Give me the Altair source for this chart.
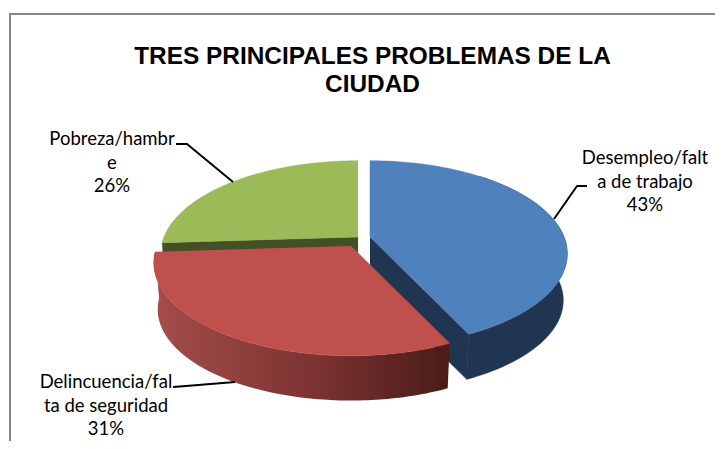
import math
import altair as alt
import pandas as pd

categories = ["Desempleo/falta de trabajo", "Delincuencia/falta de seguridad", "Pobreza/hambre"]
shares = [43, 31, 26]
title_lines = ["TRES PRINCIPALES PROBLEMAS DE LA", "CIUDAD"]
label_lines = [
    ["Desempleo/falt", "a de trabajo", "43%"],
    ["Delincuencia/fal", "ta de seguridad", "31%"],
    ["Pobreza/hambr", "e", "26%"],
]
label_x = [645, 106, 112]
label_y = [158, 382, 139]
leaders = [
    [(587, 186), (577, 186), (554, 219)],
    [(173, 387), (186, 386), (235, 382)],
    [(176, 144), (187, 144), (233, 182)],
]
apex = [(370, 237), (351, 246), (358, 237)]
top_colors = ["#4f81bd", "#c0504d", "#9bbb59"]

AX, BX, K, DEPTH, BOTTOM = 194, 90, 0.18, 47, 0.98
W, H = 707, 433
xs = alt.Scale(domain=[8, 8 + W], range=[0, W])
ys = alt.Scale(domain=[8, 8 + H], range=[0, H])


def rim(t, c, scale=1.0, dy=0.0):
    a = math.radians(t)
    p = 1 / (1 + K * math.cos(a))
    return (c[0] + scale * AX * math.sin(a) * p, c[1] + dy + scale * BX * math.cos(a) * -1 * p)


def arc(t0, t1, c, scale=1.0, dy=0.0):
    n = max(2, int(abs(t1 - t0)))
    return [rim(t0 + (t1 - t0) * i / n, c, scale, dy) for i in range(n + 1)]


def polygon(points, **mark):
    df = pd.DataFrame([{"x": x, "y": y, "i": i} for i, (x, y) in enumerate(points)])
    return alt.Chart(df).mark_line(strokeJoin="round", **mark).encode(
        x=alt.X("x:Q", scale=xs, axis=None),
        y=alt.Y("y:Q", scale=ys, axis=None),
        order="i:Q",
    )


def solid(points, color):
    return polygon(points, fill=color, stroke=color, strokeWidth=0.5)


edges = [0]
for s in shares:
    edges.append(edges[-1] + s * 3.6)
(t0b, t1b), (t0r, t1r), (t0g, t1g) = zip(edges[:-1], edges[1:])
cb, cr, cg = apex


def wall(t, c):
    return [c, rim(t, c), rim(t, c, BOTTOM, DEPTH), (c[0], c[1] + DEPTH)]


red_gradient = alt.LinearGradient(
    gradient="linear", x1=0, x2=1, y1=0, y2=0,
    stops=[
        alt.GradientStop(color="#a54d4a", offset=0),
        alt.GradientStop(color="#7b3331", offset=0.55),
        alt.GradientStop(color="#4a1b18", offset=1),
    ],
)

layers = [
    solid(wall(t0g, cg), "#434f25"),
    solid([cg] + arc(t0g, t1g, cg), top_colors[2]),
    solid(wall(t1b, cb), "#1f3552"),
    solid(arc(40, t1b, cb) + arc(t1b, 40, cb, BOTTOM, DEPTH), "#1f3552"),
    solid([cb] + arc(t0b, t1b, cb), top_colors[0]),
    polygon(arc(t0r, t1r, cr) + arc(t1r, t0r, cr, BOTTOM, DEPTH), fill=red_gradient, strokeWidth=0),
    solid([cr] + arc(t0r, t1r, cr), top_colors[1]),
]

frame = pd.DataFrame({"x": [10, 10, 723], "y": [449, 14, 14], "i": [0, 1, 2]})
layers.append(
    alt.Chart(frame).mark_line(color="#868686", strokeWidth=2, clip=False).encode(
        x=alt.X("x:Q", scale=xs, axis=None), y=alt.Y("y:Q", scale=ys, axis=None), order="i:Q"
    )
)

for path in leaders:
    layers.append(polygon(path, color="black", strokeWidth=2))

rows = []
for lines, lx, ly in zip(label_lines, label_x, label_y):
    for j, line in enumerate(lines):
        rows.append({"x": lx, "y": ly + j * 23.7, "t": line})
layers.append(
    alt.Chart(pd.DataFrame(rows)).mark_text(font="Lato", fontSize=18.5, color="black", align="center", baseline="middle").encode(
        x=alt.X("x:Q", scale=xs, axis=None), y=alt.Y("y:Q", scale=ys, axis=None), text="t:N"
    )
)

chart = alt.layer(*layers).properties(
    width=W,
    height=H,
    padding=0,
    autosize=alt.AutoSizeParams(type="none"),
    title=alt.TitleParams(
        text=title_lines, font="Liberation Sans", fontSize=24.4, fontWeight="bold", color="black",
        anchor="middle", frame="group", dx=11, dy=89, lineHeight=28, offset=0,
    ),
).configure_view(stroke=None)

chart.save("out.html", embed_options={"renderer": "svg", "actions": False})
